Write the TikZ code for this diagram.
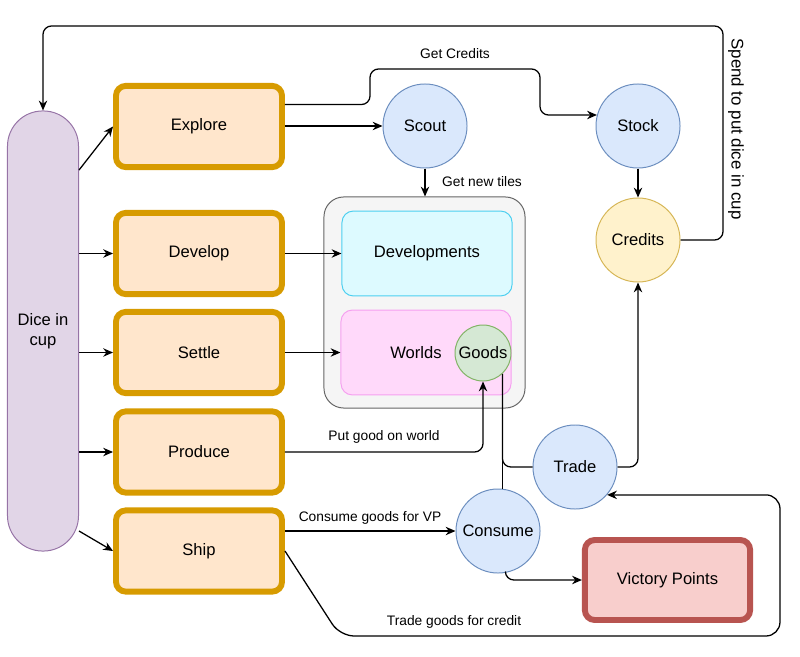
\documentclass[tikz,border=0pt]{standalone}
\usepackage{fontspec}
\setmainfont{Liberation Sans}
\usepackage{tikz}
\usetikzlibrary{arrows.meta}

\definecolor{cupfill}{HTML}{E1D5E7}
\definecolor{cupline}{HTML}{9673A6}
\definecolor{phasefill}{HTML}{FFE6CC}
\definecolor{phaseline}{HTML}{D79B00}
\definecolor{poolfill}{HTML}{DAE8FC}
\definecolor{poolline}{HTML}{6C8EBF}
\definecolor{creditfill}{HTML}{FFF2CC}
\definecolor{creditline}{HTML}{D6B656}
\definecolor{goodfill}{HTML}{D5E8D4}
\definecolor{goodline}{HTML}{82B366}
\definecolor{vpfill}{HTML}{F8CECC}
\definecolor{vpline}{HTML}{B85450}
\definecolor{boardfill}{HTML}{F5F5F5}
\definecolor{boardline}{HTML}{666666}
\definecolor{devfill}{HTML}{DDFAFF}
\definecolor{devline}{HTML}{4CCFF0}
\definecolor{worldfill}{HTML}{FFD9FA}
\definecolor{worldline}{HTML}{F5A0F0}

\begin{document}
\begin{tikzpicture}[x=0.025cm, y=-0.025cm,
    font=\fontsize{11.8}{14}\selectfont,
    phase/.style={draw=phaseline, fill=phasefill, line width=4.2pt, rounded corners=7pt,
      minimum width=4.15cm, minimum height=2.03cm},
    pool/.style={circle, draw=poolline, fill=poolfill, line width=0.7pt,
      minimum size=2.1cm, inner sep=0pt},
    tile/.style={rectangle, line width=0.7pt, rounded corners=8pt,
      minimum width=4.25cm, minimum height=2.12cm},
    arr/.style={-{Stealth[length=7pt, width=6pt]}, line width=0.9pt},
    wire/.style={line width=0.9pt},
    tag/.style={font=\fontsize{9.8}{12}\selectfont}]

  \useasboundingbox (0,0) rectangle (800,656);

  % dice cup and the five phases
  \node[draw=cupline, fill=cupfill, line width=0.7pt, rounded corners=0.88cm,
    minimum width=1.775cm, minimum height=11cm, align=center] (cup) at (43,331) {Dice in\\cup};
  \node[phase] (explore) at (199,126.5) {Explore};
  \node[phase] (develop) at (199,253.5) {Develop};
  \node[phase] (settle)  at (199,352.5) {Settle};
  \node[phase] (produce) at (199,452)   {Produce};
  \node[phase] (ship)    at (199,551)   {Ship};

  % tableau
  \node[tile, draw=boardline, fill=boardfill, rounded corners=14pt,
    minimum width=5.025cm, minimum height=5.275cm] (board) at (424.5,302.5) {};
  \node[tile, draw=devline, fill=devfill] (devs) at (427,253.5) {Developments};
  \node[tile, draw=worldline, fill=worldfill,
    label={[xshift=-0.25cm]center:Worlds}] (worlds) at (426,352.5) {};
  \node[circle, draw=goodline, fill=goodfill, line width=0.7pt,
    minimum size=1.4cm, inner sep=0pt] (goods) at (483,353) {Goods};

  % pools
  \node[pool] (scout)   at (425,126) {Scout};
  \node[pool] (stock)   at (638,126) {Stock};
  \node[pool, draw=creditline, fill=creditfill] (credits) at (638,240) {Credits};
  \node[pool] (trade)   at (575,467) {Trade};
  \node[pool] (consume) at (498,531) {Consume};
  \node[draw=vpline, fill=vpfill, line width=4.2pt, rounded corners=7pt,
    minimum width=4.13cm, minimum height=2.0cm] (vp) at (667.5,580) {Victory Points};

  % cup to phases
  \draw[arr] (cup.east |- explore.south) -- (explore.west);
  \draw[arr] (cup.east |- develop.west) -- (develop.west);
  \draw[arr] (cup.east |- settle.west) -- (settle.west);
  \draw[arr] (cup.east |- produce.west) -- (produce.west);
  \draw[arr] (cup.east |- consume.west) -- (ship.west);

  % explore
  \draw[arr] (explore.east |- scout.west) -- (scout.west);
  \draw[arr, rounded corners=6pt] ([yshift=0.55cm]explore.east) -- (370,104.5)
    -- (370,69) -- (540,69) |- (stock.165);
  \node[tag] (creditstag) at (455,54) {Get Credits};
  \draw[arr] (scout.south) -- (scout.south |- board.north);
  \node[tag] (tilestag) at (482,182) {Get new tiles};

  % stock and credits
  \draw[arr] (stock.south) -- (credits.north);
  \draw[arr, rounded corners=6pt] (credits.east) -| (723,26) -| (cup.north);
  \node[rotate=-90, font=\fontsize{12}{14}\selectfont] (spendtag) at (736,129) {Spend to put dice in cup};

  % develop, settle, produce
  \draw[arr] (develop.east) -- (devs.west);
  \draw[arr] (settle.east) -- (worlds.west);
  \draw[arr, rounded corners=6pt] (produce.east) -| (goods.south);
  \node[tag] (puttag) at (384,437) {Put good on world};

  % goods to trade and consume
  \draw[wire] (goods.-47) -- (goods.-47 |- consume.north);
  \draw[wire, rounded corners=6pt] (goods.-47) |- (trade.west);
  \draw[arr, rounded corners=6pt] (trade.east) -| (credits.south);

  % ship
  \draw[arr] (ship.east |- consume.west) -- (consume.west);
  \node[tag] (consumetag) at (370,518) {Consume goods for VP};
  \draw[arr, rounded corners=6pt] (consume.-80) |- (vp.west);
  \draw[arr, rounded corners=10pt] (ship.east) -- (340,636) -- (780,636) |- (trade.-41);
  \node[tag] (tradetag) at (454,622) {Trade goods for credit};
\end{tikzpicture}
\end{document}
